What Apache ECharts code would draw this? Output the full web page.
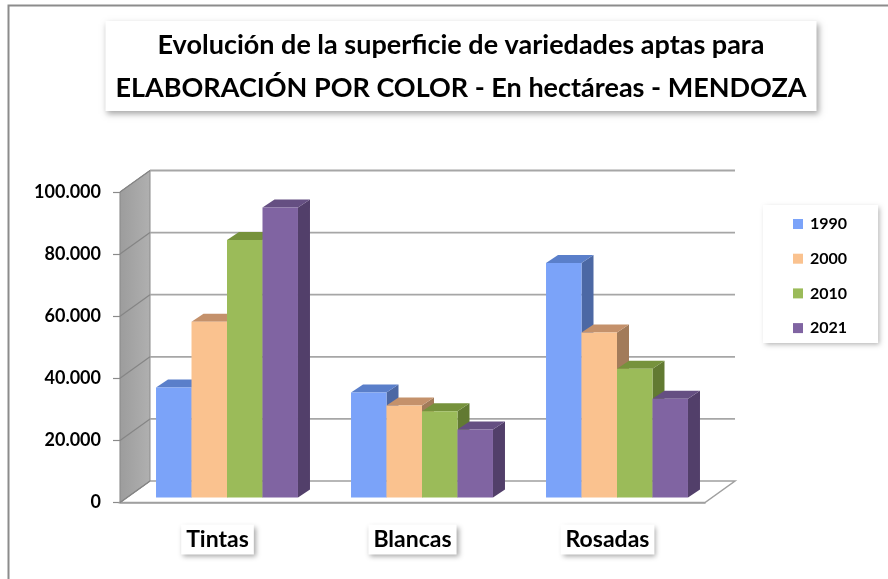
<!DOCTYPE html>
<html>
<head>
<meta charset="utf-8">
<script src="https://cdn.jsdelivr.net/npm/echarts@6/dist/echarts.min.js"></script>
<style>
  html, body { margin: 0; padding: 0; background: #fff; }
  #chart { width: 888px; height: 579px; }
</style>
</head>
<body>
<div id="chart"></div>
<script>
const categories = ['Tintas', 'Blancas', 'Rosadas'];
const years = ['1990', '2000', '2010', '2021'];
const values1990 = [35400, 33800, 75500];
const values2000 = [56600, 29600, 53100];
const values2010 = [82900, 27800, 41500];
const values2021 = [93400, 21900, 31800];
const yTicks = [0, 20000, 40000, 60000, 80000, 100000];

const seriesValues = [values1990, values2000, values2010, values2021];
// cara frontal, cara superior, cara lateral
const faceColors = [
  ['#7ba3f9', '#5a7fca', '#4c68a4'],
  ['#fac28f', '#c4916b', '#a27b5a'],
  ['#9bbb59', '#76923c', '#627a32'],
  ['#8064a2', '#654f82', '#523f6a']
];

// profundidad del "3D"
const DX = 30, DY = -21.5;     // pared del fondo
const OX = 9.5, OY = -5;        // cara frontal de las barras
const BX = 12, BY = -8;         // espesor de las barras
const FONT = 'Lato';

const chart = echarts.init(document.getElementById('chart'));

function fmt(v) {
  return String(v).replace(/\B(?=(\d{3})+(?!\d))/g, '.');
}

// paredes, piso y líneas de la grilla
const wallSeries = {
  type: 'custom',
  name: 'wall',
  silent: true,
  z: 1,
  data: [[0]],
  renderItem: function (params, api) {
    const cs = params.coordSys;
    const x0 = cs.x, x1 = cs.x + cs.width;
    const yb = api.coord([0, 0])[1];
    const yt = api.coord([0, yTicks[yTicks.length - 1]])[1];
    return {
      type: 'group',
      children: [
        {
          type: 'polygon',
          shape: { points: [[x0, yb], [x1, yb], [x1 + DX, yb + DY], [x0 + DX, yb + DY]] },
          style: { fill: '#fff', stroke: '#a0a0a0', lineWidth: 1.5 }
        },
        {
          type: 'polygon',
          shape: { points: [[x0, yt], [x0 + DX, yt + DY], [x0 + DX, yb + DY], [x0, yb]] },
          style: {
            fill: new echarts.graphic.LinearGradient(0, 0, 1, 0, [
              { offset: 0, color: '#9c9c9c' },
              { offset: 1, color: '#b0b0b0' }
            ]),
            stroke: '#8a8a8a',
            lineWidth: 1
          }
        }
      ]
    };
  }
};

const gridSeries = {
  type: 'custom',
  name: 'grid',
  silent: true,
  z: 2,
  data: yTicks.map(function (t) { return [0, t]; }),
  renderItem: function (params, api) {
    const cs = params.coordSys;
    const x0 = cs.x, x1 = cs.x + cs.width;
    const y = api.coord([0, api.value(1)])[1];
    const children = [
      {
        type: 'line',
        shape: { x1: x0, y1: y, x2: x0 + DX, y2: y + DY },
        style: { stroke: '#858585', lineWidth: 1.2 }
      }
    ];
    if (api.value(1) > 0) {
      children.push({
        type: 'line',
        shape: { x1: x0 + DX, y1: y + DY, x2: x1 + DX, y2: y + DY },
        style: { stroke: '#a6a6a6', lineWidth: 1.8 }
      });
    }
    return { type: 'group', children: children };
  }
};

function barSeries(idx) {
  const col = faceColors[idx];
  return {
    type: 'custom',
    name: years[idx],
    z: 3,
    itemStyle: { color: col[0] },
    data: seriesValues[idx].map(function (v, c) { return [c, v]; }),
    renderItem: function (params, api) {
      const c = api.value(0), v = api.value(1);
      const band = api.size([1, 0])[0];
      const w = band * 0.182;
      const base = api.coord([c, 0]);
      const top = api.coord([c, v]);
      const x0 = base[0] - 2 * w + idx * w + OX;
      const x1 = x0 + w;
      const yb = base[1] + OY;
      const yt = top[1] + OY;
      return {
        type: 'group',
        children: [
          {
            type: 'polygon',
            shape: { points: [[x1, yt], [x1 + BX, yt + BY], [x1 + BX, yb + BY], [x1, yb]] },
            style: { fill: col[2] }
          },
          {
            type: 'polygon',
            shape: { points: [[x0, yt], [x1, yt], [x1 + BX, yt + BY], [x0 + BX, yt + BY]] },
            style: { fill: col[1] }
          },
          {
            type: 'rect',
            shape: { x: x0, y: yt, width: w, height: yb - yt },
            style: { fill: col[0] }
          }
        ]
      };
    }
  };
}

const option = {
  backgroundColor: '#fff',
  animation: false,
  graphic: [
    {
      type: 'polyline',
      shape: { points: [[8.5, 600], [8.5, 5.5], [900, 5.5]] },
      style: { stroke: '#8c8c8c', lineWidth: 2, fill: null },
      z: 0
    }
  ],
  title: {
    text: 'Evolución de la superficie de variedades aptas para\nELABORACIÓN POR COLOR - En hectáreas - MENDOZA',
    left: 451,
    top: 21,
    padding: [3, 10, 1, 10],
    backgroundColor: '#fff',
    shadowColor: 'rgba(0,0,0,0.35)',
    shadowBlur: 6,
    shadowOffsetX: 2,
    shadowOffsetY: 3,
    textAlign: 'center',
    textStyle: {
      fontFamily: FONT,
      fontWeight: 'bold',
      fontSize: 27,
      lineHeight: 43,
      color: '#000'
    }
  },
  legend: {
    orient: 'vertical',
    left: 763,
    top: 205,
    padding: [9, 31, 5, 30],
    itemWidth: 10,
    itemHeight: 10,
    itemGap: 14.7,
    icon: 'rect',
    data: years,
    backgroundColor: '#fff',
    shadowColor: 'rgba(0,0,0,0.3)',
    shadowBlur: 5,
    shadowOffsetX: 2,
    shadowOffsetY: 2,
    textStyle: {
      fontFamily: FONT,
      fontWeight: 'bold',
      fontSize: 16,
      lineHeight: 20,
      color: '#000',
      padding: [0, 0, 0, 2]
    }
  },
  grid: {
    left: 120,
    top: 192,
    width: 585,
    height: 310.5
  },
  xAxis: {
    type: 'category',
    data: categories,
    axisLine: { lineStyle: { color: '#a0a0a0', width: 1.5 } },
    axisTick: { length: 8, lineStyle: { color: '#a0a0a0', width: 1.5 } },
    axisLabel: {
      margin: 22,
      fontFamily: FONT,
      fontWeight: 'bold',
      fontSize: 23,
      color: '#000',
      backgroundColor: '#fff',
      padding: [4, 5, 3, 5],
      shadowColor: 'rgba(0,0,0,0.35)',
      shadowBlur: 5,
      shadowOffsetX: 2,
      shadowOffsetY: 2
    },
    splitLine: { show: false }
  },
  yAxis: {
    type: 'value',
    min: 0,
    max: 100000,
    interval: 20000,
    axisLine: { show: true, lineStyle: { color: '#8a8a8a', width: 1.2 } },
    axisTick: { show: true, length: 7, lineStyle: { color: '#8a8a8a', width: 1.2 } },
    axisLabel: {
      margin: 19,
      fontFamily: FONT,
      fontWeight: 'bold',
      fontSize: 18,
      color: '#000',
      formatter: fmt
    },
    splitLine: { show: false }
  },
  series: [wallSeries, gridSeries].concat(years.map(function (y, i) { return barSeries(i); }))
};

chart.setOption(option);
</script>
</body>
</html>
